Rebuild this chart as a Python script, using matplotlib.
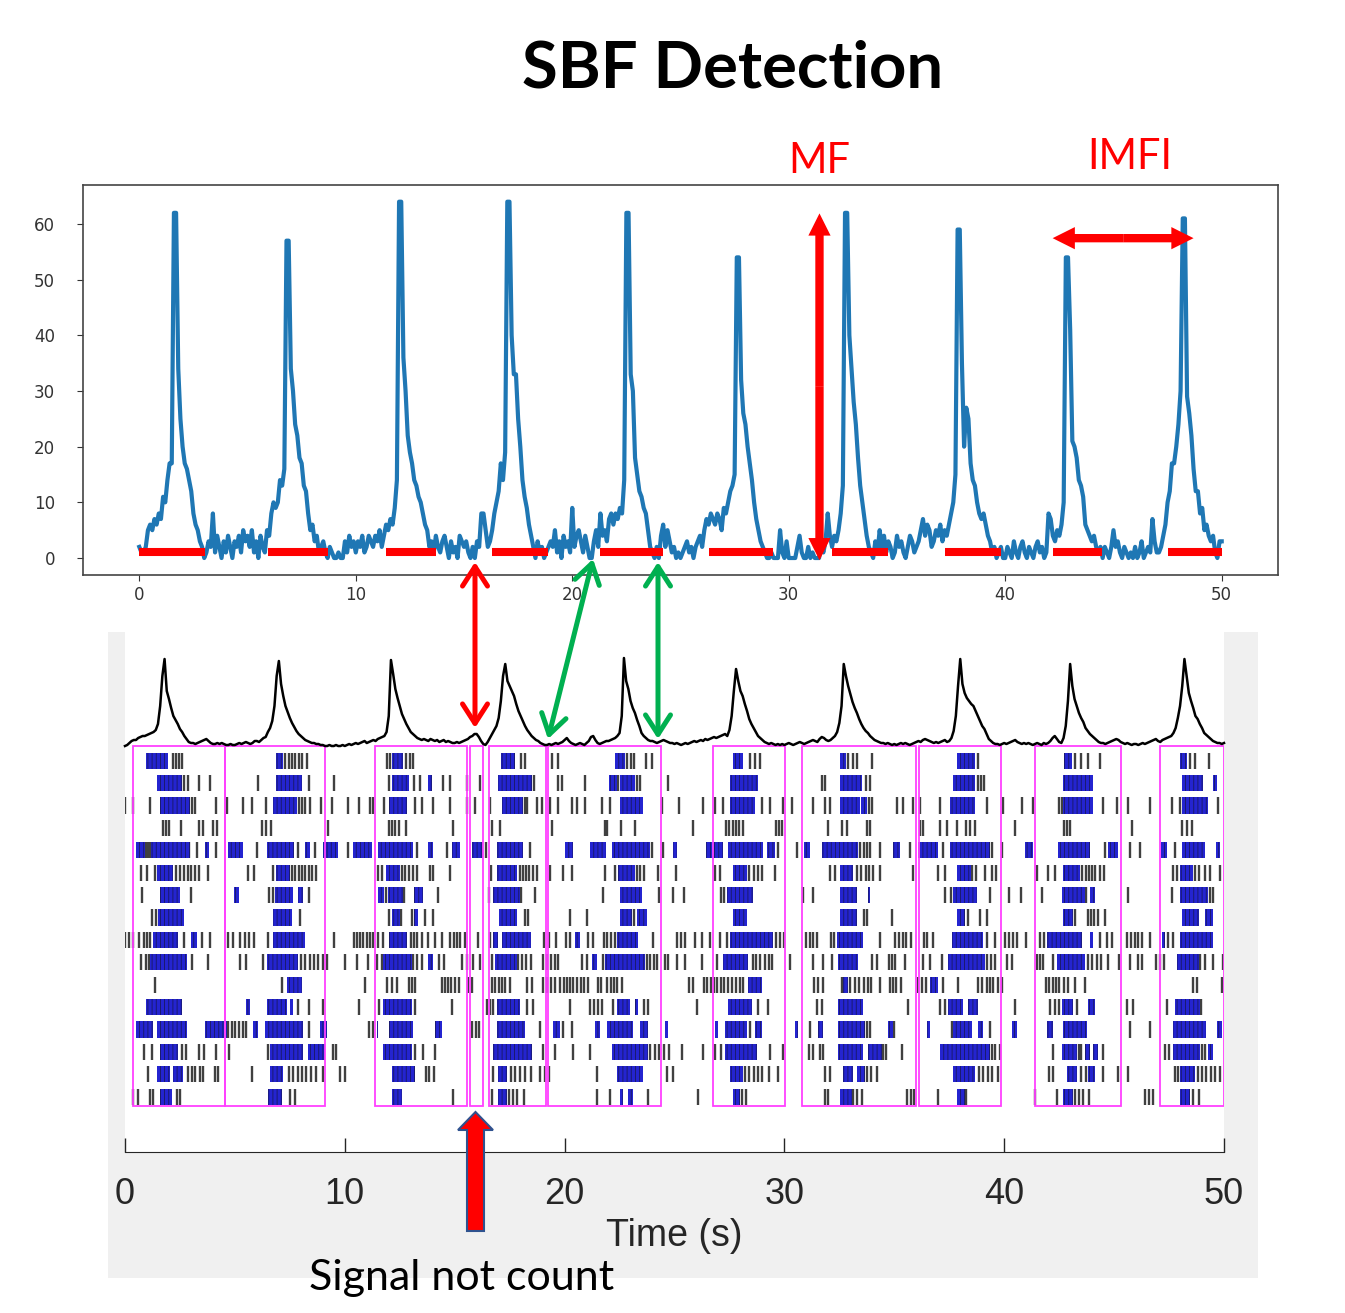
import numpy as np
import matplotlib
matplotlib.use("Agg")
import matplotlib.pyplot as plt
from matplotlib.patches import Rectangle, FancyArrowPatch, FancyArrow

# ---------------------------------------------------------------- data
# upper panel: firing rate, one value every 0.1 s from 0 to 50 s
top_rate = [
    2, 1, 1, 2, 5, 6, 5, 7, 6, 8,
    7, 11, 10, 14, 17, 17, 62, 62, 34, 25,
    20, 17, 16, 14, 12, 8, 6, 5, 3, 2,
    0, 1, 3, 2, 8, 1, 4, 2, 0, 3,
    1, 4, 2, 0, 3, 2, 4, 1, 5, 3,
    4, 2, 5, 1, 3, 0, 4, 2, 1, 5,
    4, 8, 10, 9, 10, 14, 13, 16, 57, 57,
    34, 30, 24, 22, 18, 17, 13, 12, 8, 5,
    6, 3, 4, 1, 2, 3, 1, 0, 2, 1,
    0, 0, 1, 0, 0, 3, 1, 4, 2, 3,
    1, 3, 2, 4, 1, 2, 4, 3, 2, 4,
    3, 5, 2, 4, 6, 5, 7, 6, 9, 14,
    64, 64, 36, 30, 22, 19, 17, 14, 13, 11,
    10, 8, 6, 5, 2, 3, 1, 4, 2, 1,
    3, 4, 2, 0, 3, 1, 2, 0, 4, 3,
    2, 3, 1, 0, 2, 0, 3, 2, 8, 8,
    5, 2, 3, 5, 8, 10, 12, 17, 14, 19,
    64, 64, 40, 33, 33, 25, 20, 14, 11, 9,
    6, 4, 2, 0, 3, 1, 2, 0, 1, 2,
    3, 2, 5, 1, 3, 0, 4, 2, 3, 1,
    9, 2, 4, 5, 3, 1, 4, 2, 0, 0,
    3, 5, 2, 8, 4, 5, 3, 7, 8, 6,
    8, 7, 9, 8, 14, 62, 62, 33, 30, 18,
    15, 12, 11, 9, 8, 5, 2, 1, 0, 2,
    0, 4, 6, 2, 5, 3, 1, 2, 0, 1,
    0, 1, 2, 3, 1, 2, 0, 2, 3, 4,
    2, 5, 7, 6, 8, 7, 6, 8, 7, 5,
    9, 8, 10, 12, 13, 15, 54, 54, 32, 26,
    24, 20, 17, 14, 10, 7, 5, 3, 2, 1,
    0, 0, 1, 0, 0, 0, 5, 1, 0, 3,
    0, 0, 0, 0, 2, 4, 1, 0, 0, 2,
    0, 1, 0, 0, 0, 2, 1, 3, 8, 4,
    2, 4, 3, 5, 8, 13, 62, 62, 40, 34,
    28, 24, 18, 13, 10, 7, 4, 2, 1, 0,
    3, 1, 5, 2, 4, 1, 3, 2, 0, 1,
    4, 2, 3, 1, 0, 2, 4, 3, 1, 2,
    3, 5, 7, 4, 6, 5, 2, 3, 5, 4,
    6, 3, 5, 4, 6, 8, 10, 15, 59, 59,
    35, 20, 27, 25, 17, 14, 13, 10, 8, 7,
    8, 6, 4, 3, 1, 2, 0, 1, 2, 0,
    0, 2, 1, 0, 3, 1, 0, 2, 3, 1,
    0, 2, 1, 0, 2, 3, 1, 2, 0, 1,
    8, 7, 4, 3, 5, 4, 6, 10, 54, 54,
    41, 21, 20, 18, 14, 13, 11, 6, 5, 4,
    3, 4, 2, 1, 2, 0, 2, 1, 0, 2,
    5, 2, 3, 1, 0, 2, 1, 0, 1, 0,
    2, 0, 1, 3, 0, 1, 2, 1, 7, 3,
    1, 1, 2, 4, 6, 10, 12, 17, 17, 20,
    24, 30, 61, 61, 29, 26, 22, 16, 12, 12,
    8, 9, 5, 6, 4, 3, 4, 1, 0, 3,
    3,
]

# detected bursts (red bars), seconds
burst_start = [0.0, 5.96, 11.4, 16.3, 21.3, 26.3, 32.0, 37.2, 42.2, 47.5]
burst_end = [3.05, 8.73, 13.7, 18.9, 24.2, 29.25, 34.6, 39.8, 44.45, 50.0]

# lower panel: population trace, one value every 0.1 s
pop_rate = [
    0, 1, 3, 5, 6, 6, 8, 9, 10, 10,
    11, 12, 13, 14, 16, 22, 40, 70, 87, 55,
    47, 38, 30, 26, 22, 17, 14, 10, 7, 4,
    3, 3, 2, 3, 4, 5, 6, 7, 5, 3,
    2, 2, 3, 2, 3, 2, 1, 1, 2, 1,
    1, 2, 3, 2, 3, 4, 3, 2, 3, 5,
    5, 4, 6, 8, 9, 14, 18, 25, 40, 70,
    85, 62, 50, 40, 34, 28, 23, 19, 15, 12,
    10, 8, 6, 5, 4, 3, 3, 2, 2, 1,
    1, 0, 0, 1, 0, 0, 1, 0, 0, 1,
    0, 1, 2, 1, 2, 3, 2, 3, 4, 5,
    3, 4, 5, 6, 5, 7, 8, 9, 10, 14,
    30, 86, 72, 57, 48, 40, 32, 27, 22, 18,
    14, 12, 10, 8, 7, 6, 7, 6, 5, 7,
    6, 5, 6, 4, 5, 6, 4, 5, 4, 3,
    3, 4, 3, 4, 5, 6, 7, 9, 10, 12,
    12, 9, 5, 2, 1, 4, 8, 12, 16, 20,
    28, 45, 70, 82, 65, 60, 55, 50, 42, 35,
    30, 25, 20, 16, 13, 10, 8, 6, 5, 3,
    2, 1, 1, 2, 1, 2, 3, 2, 3, 4,
    6, 8, 5, 3, 2, 1, 2, 3, 2, 1,
    3, 5, 9, 10, 6, 3, 2, 3, 4, 5,
    5, 6, 7, 8, 10, 13, 30, 88, 65, 57,
    45, 38, 33, 26, 20, 13, 10, 8, 6, 5,
    5, 4, 3, 4, 5, 6, 5, 4, 3, 3,
    2, 3, 2, 1, 2, 3, 2, 3, 4, 5,
    4, 5, 6, 5, 7, 6, 7, 8, 9, 8,
    9, 10, 11, 12, 10, 16, 30, 55, 77, 65,
    55, 50, 42, 35, 27, 22, 18, 14, 10, 8,
    6, 4, 3, 2, 3, 2, 1, 2, 1, 2,
    1, 2, 3, 2, 1, 2, 3, 4, 3, 2,
    3, 4, 5, 6, 5, 4, 7, 9, 8, 6,
    5, 6, 8, 10, 14, 23, 40, 82, 70, 60,
    52, 44, 38, 33, 27, 22, 18, 15, 13, 10,
    8, 6, 5, 4, 3, 3, 2, 3, 2, 1,
    2, 1, 2, 3, 2, 3, 2, 1, 2, 3,
    4, 5, 4, 6, 7, 6, 5, 4, 3, 4,
    3, 4, 5, 6, 4, 5, 8, 15, 30, 60,
    87, 62, 53, 48, 45, 42, 40, 35, 30, 25,
    20, 17, 12, 7, 5, 3, 2, 2, 1, 2,
    3, 2, 3, 4, 5, 6, 4, 3, 2, 3,
    2, 3, 2, 1, 2, 3, 2, 1, 3, 2,
    3, 5, 8, 10, 7, 4, 3, 8, 20, 45,
    82, 60, 47, 40, 33, 28, 24, 18, 15, 12,
    10, 8, 6, 4, 3, 3, 2, 3, 4, 5,
    6, 7, 6, 4, 3, 2, 3, 2, 1, 2,
    2, 1, 2, 3, 2, 3, 4, 5, 6, 7,
    5, 4, 6, 7, 8, 9, 10, 13, 18, 28,
    40, 60, 87, 70, 53, 45, 38, 30, 27, 22,
    18, 13, 11, 9, 7, 5, 4, 3, 3, 2,
    3,
]

# burst windows (magenta boxes), seconds
box_start = [0.38, 4.55, 11.38, 15.7, 16.58, 19.26, 26.74, 30.82, 36.14, 41.4, 47.09]
box_end = [4.55, 9.1, 15.57, 16.27, 19.16, 24.4, 30.03, 35.99, 39.84, 45.3, 50.0]

# raster: spikes inside bursts (blue, intervals) and other spikes (black)
blue_bursts = [
    [(0.96, 1.97), (6.86, 7.2), (12.13, 12.66), (17.1, 17.74), (22.3, 22.75), (27.68, 28.13),
     (32.53, 32.8), (37.84, 38.67), (42.7, 43.07), (48.0, 48.3)],
    [(1.44, 2.58), (6.86, 8.04), (12.13, 12.92), (13.8, 13.95), (16.98, 18.5), (22.03, 22.37),
     (22.52, 23.2), (27.52, 28.8), (32.53, 33.52), (37.69, 38.67), (42.69, 44.06), (48.07, 49.06),
     (49.52, 49.67)],
    [(1.59, 2.96), (6.75, 7.81), (12.03, 12.82), (17.14, 18.12), (22.52, 23.58), (27.52, 28.66),
     (32.53, 33.44), (33.5, 33.75), (37.53, 38.67), (42.69, 44.06), (48.07, 49.29)],
    [],
    [(0.5, 0.9), (1.2, 2.96), (3.64, 3.84), (4.7, 5.38), (6.48, 7.7), (8.19, 8.42), (9.02, 9.7),
     (10.39, 11.22), (11.53, 13.12), (13.8, 14.03), (14.86, 15.24), (15.77, 16.3), (16.91, 18.12),
     (20.02, 20.37), (21.15, 21.87), (22.14, 23.88), (24.92, 25.13), (26.43, 27.22), (27.45, 29.01),
     (29.19, 29.57), (30.89, 31.16), (31.7, 33.36), (34.95, 35.26), (36.09, 37.0), (37.53, 39.35),
     (40.95, 41.3), (42.46, 43.9), (44.74, 45.2), (47.12, 47.42), (48.07, 49.14), (49.64, 49.82)],
    [(1.44, 2.2), (6.86, 7.51), (11.87, 12.51), (16.91, 17.85), (22.44, 23.2), (27.68, 28.28),
     (32.53, 33.14), (37.84, 38.5), (42.69, 43.45), (48.0, 48.6)],
    [(1.59, 2.5), (4.97, 5.2), (6.82, 7.66), (7.89, 8.08), (11.53, 11.8), (11.95, 12.66),
     (13.15, 13.54), (16.73, 17.97), (22.52, 23.51), (27.37, 28.59), (32.53, 33.29), (33.82, 33.9),
     (37.69, 38.75), (42.61, 43.68), (43.9, 44.13), (48.0, 49.29)],
    [(1.52, 2.69), (6.75, 7.58), (12.13, 12.51), (13.15, 13.35), (17.03, 17.85), (22.52, 23.05),
     (23.28, 23.73), (27.68, 28.28), (32.53, 33.29), (37.84, 38.22), (42.69, 43.15), (48.07, 48.84),
     (49.14, 49.52)],
    [(1.26, 2.43), (3.0, 3.29), (6.75, 8.19), (12.0, 12.82), (16.76, 16.98), (17.14, 18.46),
     (20.47, 20.7), (22.37, 23.35), (27.52, 29.5), (32.38, 33.59), (37.61, 39.05), (41.93, 43.53),
     (43.9, 44.06), (47.17, 47.32), (48.0, 49.52)],
    [(1.14, 2.81), (6.45, 7.89), (11.75, 13.04), (13.8, 14.03), (16.83, 17.82), (21.23, 21.46),
     (21.84, 23.66), (27.22, 28.36), (32.45, 33.36), (37.46, 39.13), (42.39, 43.68), (47.85, 48.84)],
    [(7.36, 8.04), (28.36, 28.96), (32.68, 32.91), (36.62, 37.0)],
    [(0.96, 2.58), (5.5, 5.69), (6.48, 7.36), (7.51, 7.66), (11.75, 13.04), (16.91, 17.97),
     (22.37, 22.98), (23.2, 23.35), (27.45, 28.51), (32.45, 33.59), (37.46, 38.14), (38.37, 38.82),
     (42.61, 43.15), (43.83, 44.13), (47.77, 48.9)],
    [(0.5, 1.29), (1.44, 2.81), (3.64, 4.63), (5.84, 6.07), (6.37, 8.11), (8.87, 9.17),
     (11.45, 11.53), (12.0, 13.12), (14.1, 14.41), (16.91, 18.2), (19.49, 19.79), (21.38, 21.61),
     (21.91, 23.13), (23.43, 23.81), (24.57, 24.72), (26.84, 26.99), (27.3, 28.28), (28.66, 28.96),
     (30.48, 30.64), (31.54, 31.77), (32.45, 33.67), (34.73, 34.95), (36.47, 36.62), (37.69, 38.52),
     (38.82, 39.05), (40.34, 40.57), (41.96, 42.24), (42.69, 43.75), (47.7, 49.2), (49.67, 49.9)],
    [(1.59, 2.43), (6.6, 8.08), (8.34, 9.1), (11.75, 13.04), (16.76, 18.5), (22.14, 23.81),
     (27.3, 28.74), (32.45, 33.59), (33.82, 34.43), (37.08, 39.35), (42.61, 43.3), (43.68, 43.9),
     (44.06, 44.28), (47.7, 48.9), (49.29, 49.52)],
    [(1.44, 2.05), (2.2, 2.65), (6.6, 7.2), (12.13, 13.2), (16.98, 17.37), (22.37, 23.58),
     (27.52, 28.13), (32.68, 33.14), (33.29, 33.67), (37.69, 38.67), (42.84, 43.3), (43.83, 44.13),
     (48.0, 48.68)],
    [(1.59, 2.12), (6.52, 7.13), (12.13, 12.59), (16.98, 17.37), (22.52, 22.67), (22.9, 23.13),
     (27.68, 27.98), (32.53, 33.06), (37.84, 38.22), (42.69, 43.15), (48.0, 48.45)],
]

black_spikes = [
    [2.2, 2.3, 2.45, 2.6, 7.3, 7.45, 7.6, 7.75, 7.9, 8.05, 8.3, 11.9, 12.05, 12.8, 12.95, 13.1,
     18.0, 18.2, 19.41, 19.71, 22.85, 23.0, 23.15, 23.7, 23.96, 28.45, 28.65, 28.9, 32.9, 33.1,
     33.3, 33.97, 38.8, 43.2, 43.5, 43.8, 44.36, 48.45, 48.7, 49.3],
    [2.7, 2.85, 3.38, 3.87, 6.07, 8.39, 9.51, 12.0, 13.15, 13.42, 14.48, 14.79, 15.57, 16.15,
     18.6, 19.7, 19.87, 20.93, 22.44, 23.3, 23.45, 24.69, 31.7, 31.85, 33.7, 33.9, 38.8, 38.95,
     39.1],
    [0.02, 0.38, 1.14, 3.05, 3.2, 4.14, 4.63, 5.38, 5.76, 6.42, 7.9, 8.05, 8.2, 8.4, 8.9, 9.4,
     10.16, 10.66, 11.15, 11.3, 11.78, 13.2, 13.5, 14.03, 14.79, 15.57, 15.92, 16.6, 18.2, 18.3,
     18.73, 18.96, 19.34, 19.72, 20.32, 20.55, 20.93, 21.69, 22.06, 24.42, 25.22, 26.31, 26.84,
     27.22, 28.96, 29.34, 29.95, 30.33, 31.31, 31.85, 32.07, 33.85, 34.0, 35.11, 35.41, 35.86,
     36.17, 37.08, 39.2, 39.96, 40.8, 41.33, 42.5, 42.62, 44.51, 45.12, 45.65, 46.63, 47.62, 48.0,
     49.74],
    [1.72, 1.85, 2.0, 2.53, 3.38, 3.56, 4.02, 4.17, 6.22, 6.42, 6.62, 9.25, 12.0, 12.15, 12.3,
     12.45, 12.78, 14.94, 16.68, 17.06, 19.41, 21.84, 21.92, 22.55, 23.2, 25.83, 27.35, 27.5,
     27.65, 27.8, 27.95, 28.1, 29.6, 29.75, 29.87, 31.99, 32.6, 32.83, 33.74, 33.9, 36.17, 36.32,
     37.08, 37.38, 37.84, 38.25, 38.45, 38.65, 40.49, 42.7, 42.85, 43.0, 45.8, 48.1, 48.3, 48.55],
    [0.95, 1.05, 1.15, 2.9, 3.29, 4.14, 5.99, 7.89, 8.64, 10.16, 13.27, 14.67, 16.43, 18.43,
     23.96, 24.49, 29.72, 30.59, 33.45, 33.6, 33.75, 33.9, 34.35, 35.71, 37.23, 39.45, 39.89,
     44.6, 45.72, 46.18, 47.77],
    [0.71, 1.02, 1.37, 2.3, 2.5, 2.7, 2.85, 3.0, 3.2, 3.35, 3.76, 5.61, 5.87, 6.75, 7.6, 7.75,
     7.9, 8.05, 8.2, 8.35, 8.5, 8.7, 11.53, 11.68, 12.6, 12.75, 12.9, 13.1, 13.3, 13.88, 14.03,
     14.79, 16.64, 17.95, 18.1, 18.25, 18.4, 18.55, 18.75, 19.34, 19.94, 20.32, 21.84, 22.3, 23.3,
     23.45, 23.6, 24.27, 25.07, 26.84, 27.07, 28.4, 28.6, 28.8, 29.0, 29.57, 32.07, 32.3, 33.3,
     33.5, 33.7, 33.85, 34.05, 34.35, 35.86, 37.0, 37.3, 38.55, 38.7, 39.13, 39.43, 39.63, 41.51,
     42.01, 42.31, 43.55, 43.7, 43.85, 44.0, 44.15, 44.35, 44.55, 47.7, 47.85, 48.7, 48.85, 49.14,
     49.37, 49.8],
    [0.76, 3.0, 6.55, 6.75, 8.39, 11.87, 12.7, 14.26, 16.58, 18.0, 18.65, 21.76, 24.31, 24.95,
     25.43, 27.1, 27.25, 30.86, 31.31, 37.3, 37.6, 39.35, 40.23, 40.75, 41.7, 43.72, 45.65, 47.62,
     49.35, 49.5],
    [1.25, 1.4, 7.96, 12.03, 12.54, 13.04, 13.65, 14.03, 18.2, 18.35, 20.24, 21.0, 23.15, 33.6,
     33.74, 34.88, 38.37, 38.9, 39.2, 43.22, 43.8, 43.95, 44.1, 44.25, 44.6],
    [0.02, 0.2, 0.35, 0.65, 0.85, 1.0, 1.15, 2.69, 3.49, 3.87, 4.7, 4.9, 5.25, 5.45, 5.65, 5.85,
     6.52, 9.51, 10.4, 10.55, 10.7, 10.85, 11.0, 11.15, 11.3, 11.53, 11.75, 13.0, 13.15, 13.3,
     13.5, 13.8, 14.1, 14.4, 14.8, 14.95, 15.1, 15.25, 15.45, 16.08, 16.6, 19.05, 19.3, 19.6,
     20.05, 20.25, 21.08, 21.3, 21.8, 21.95, 22.1, 22.3, 24.04, 25.1, 25.3, 25.48, 25.93, 26.24,
     26.61, 27.07, 27.37, 29.6, 29.8, 30.0, 31.0, 31.15, 31.3, 31.5, 32.1, 32.25, 34.35, 35.05,
     35.2, 35.4, 35.55, 35.75, 36.35, 36.5, 36.75, 39.2, 39.58, 40.05, 40.2, 40.4, 40.6, 40.99,
     41.65, 41.8, 44.36, 44.66, 44.89, 45.6, 45.75, 45.95, 46.1, 46.25, 46.63, 47.47, 47.7],
    [0.75, 0.95, 1.1, 3.03, 3.76, 5.25, 5.5, 6.3, 8.0, 8.2, 8.4, 8.6, 8.8, 9.0, 9.2, 10.01,
     10.54, 11.07, 11.45, 11.7, 13.1, 13.3, 13.5, 14.3, 14.5, 15.32, 15.55, 15.85, 16.15, 16.68,
     17.9, 18.05, 18.25, 18.45, 19.0, 19.2, 19.4, 19.55, 19.7, 20.78, 21.0, 21.76, 23.75, 23.9,
     24.05, 24.2, 24.57, 24.72, 25.1, 25.48, 26.24, 26.92, 28.55, 28.7, 28.9, 29.1, 29.3, 29.45,
     30.25, 31.31, 31.77, 32.15, 33.97, 34.2, 34.75, 34.9, 35.03, 35.49, 36.32, 36.62, 37.15,
     39.2, 39.4, 39.6, 40.11, 40.34, 41.5, 41.65, 41.78, 42.24, 43.8, 44.0, 44.2, 44.4, 44.74,
     45.24, 45.72, 46.1, 46.25, 46.9, 47.1, 47.25, 48.9, 49.15, 49.52, 49.97],
    [1.37, 7.13, 10.92, 11.9, 12.13, 12.36, 12.9, 13.05, 13.2, 14.4, 14.55, 14.7, 14.85, 15.0,
     15.2, 15.6, 15.8, 16.7, 16.85, 17.0, 17.15, 17.3, 17.5, 18.3, 18.5, 19.0, 19.2, 19.4, 19.55,
     19.8, 19.95, 20.1, 20.25, 20.4, 20.55, 20.75, 20.9, 21.05, 21.5, 21.65, 21.95, 22.1, 22.25,
     22.4, 22.6, 25.65, 25.85, 26.35, 26.5, 26.65, 26.8, 26.95, 27.1, 27.25, 27.45, 27.6, 27.8,
     28.0, 28.13, 31.35, 31.55, 31.75, 32.6, 33.0, 33.2, 33.4, 33.6, 33.8, 33.95, 34.35, 34.8,
     34.95, 35.1, 35.3, 36.09, 36.25, 36.45, 37.23, 37.92, 38.8, 39.0, 39.2, 39.35, 39.5, 39.7,
     39.9, 41.9, 42.05, 42.2, 42.35, 42.5, 42.7, 42.9, 43.2, 43.68, 48.6, 48.75, 49.9],
    [7.89, 8.39, 9.02, 10.66, 11.57, 13.2, 14.86, 16.45, 16.6, 16.76, 18.27, 18.58, 20.24, 21.15,
     21.35, 21.5, 21.69, 22.22, 23.6, 23.8, 26.01, 28.81, 29.27, 31.5, 31.7, 35.64, 37.1, 37.3,
     40.49, 42.1, 42.3, 42.5, 43.3, 45.6, 45.85, 47.39, 48.95],
    [4.7, 4.85, 5.0, 5.2, 5.35, 5.5, 8.39, 11.12, 11.3, 15.8, 15.95, 16.1, 18.88, 19.94, 20.32,
     28.43, 31.16, 33.75, 33.88, 34.98, 37.61, 39.35, 45.72, 46.63],
    [0.85, 1.25, 2.6, 2.78, 3.35, 3.6, 4.14, 4.75, 6.52, 9.45, 9.6, 13.2, 13.55, 14.1, 19.03,
     19.56, 20.4, 21.15, 23.9, 24.1, 24.3, 24.5, 24.75, 25.33, 26.31, 26.85, 27.1, 29.34, 29.95,
     31.1, 31.3, 31.6, 31.75, 34.5, 34.62, 35.33, 39.45, 39.6, 39.8, 42.24, 43.4, 43.5, 44.51,
     47.3, 47.5, 49.0, 49.15],
    [1.05, 2.85, 3.05, 3.2, 3.4, 3.55, 4.1, 4.25, 5.76, 7.45, 7.65, 7.85, 8.05, 8.25, 8.45, 8.7,
     9.0, 9.78, 10.01, 13.7, 13.85, 14.05, 16.76, 17.55, 17.75, 17.95, 18.2, 18.45, 18.88, 19.1,
     19.3, 21.46, 24.64, 24.95, 28.2, 28.4, 28.6, 28.8, 29.0, 29.3, 29.72, 31.85, 32.07, 33.75,
     33.95, 34.2, 38.85, 39.05, 39.25, 39.45, 39.7, 42.05, 42.2, 43.5, 43.7, 44.51, 45.2, 45.65,
     47.75, 47.9, 48.8, 49.0, 49.2, 49.4, 49.6, 49.8],
    [0.38, 0.61, 1.14, 1.29, 2.35, 2.5, 7.51, 7.74, 14.94, 16.68, 17.45, 17.65, 17.85, 18.15,
     21.46, 22.06, 23.81, 26.08, 28.05, 28.25, 31.85, 32.0, 33.1, 33.3, 33.55, 35.6, 35.75, 35.9,
     37.0, 38.25, 41.4, 42.39, 43.2, 43.4, 43.6, 43.85, 46.4, 46.6, 46.75, 48.6, 48.85],
]

x_ticks = [0, 10, 20, 30, 40, 50]
y_ticks_top = [0, 10, 20, 30, 40, 50, 60]

# ---------------------------------------------------------------- figure
W, H = 1345, 1313
plt.rcParams["hatch.linewidth"] = 0.6
fig = plt.figure(figsize=(W / 100, H / 100), dpi=100)

time_top = np.arange(len(top_rate)) * 0.1
time_pop = np.arange(len(pop_rate)) * 0.1

fig.text(733 / W, 1 - 88 / H, "SBF Detection", ha="center", va="baseline",
         fontsize=47, fontweight="bold", family="Lato")

# upper panel
ax1 = fig.add_axes([83 / W, 1 - 575 / H, 1195 / W, 390 / H])
ax1.plot(time_top, top_rate, color="#1f77b4", lw=3.0, zorder=2)
ax1.hlines([1.1] * len(burst_start), burst_start, burst_end, colors="red", lw=5.8,
           capstyle="butt", zorder=3)
ax1.set_xlim(-2.6, 52.6)
ax1.set_ylim(-3.05, 67)
ax1.set_xticks(x_ticks)
ax1.set_yticks(y_ticks_top)
ax1.tick_params(labelsize=12, colors="#333333", length=4, pad=4)
ax1.tick_params(axis="y", pad=16)
for s in ax1.spines.values():
    s.set_color("#444444")
    s.set_linewidth(1.2)

# MF and IMFI arrows (two filled heads from a midpoint)
arrow_kw = dict(arrowstyle="simple,head_length=0.8,head_width=0.8,tail_width=0.3",
                mutation_scale=20, color="red", lw=0, shrinkA=0, shrinkB=0, zorder=5)
for end in (61.9, -0.4):
    ax1.add_patch(FancyArrowPatch((31.42, 30.75), (31.42, end), **arrow_kw))
for end in (42.19, 48.7):
    ax1.add_patch(FancyArrowPatch((45.45, 57.45), (end, 57.45), **arrow_kw))

# lower panel background
fig.patches.append(Rectangle((108 / W, 1 - 1278 / H), 1150 / W, 646 / H,
                             transform=fig.transFigure, facecolor="#f0f0f0",
                             edgecolor="none", zorder=-5))

ax2 = fig.add_axes([125 / W, 1 - 1152 / H, 1099 / W, 520 / H])
ax2.set_facecolor("white")
rows = np.arange(1, len(black_spikes) + 1)
ax2.eventplot(black_spikes, lineoffsets=rows, linelengths=0.72, linewidths=1.7,
              colors="#404040")
for r, bursts in zip(rows, blue_bursts):
    if bursts:
        ax2.broken_barh([(a, b - a) for a, b in bursts], (r - 0.36, 0.72),
                        facecolors="#2424d0", edgecolor="#181860", linewidth=0,
                        hatch="||||", zorder=3)
for a, b in zip(box_start, box_end):
    ax2.add_patch(Rectangle((a, 0.35), b - a, 16.05, fill=False, edgecolor="#ff40ff",
                            lw=1.3, zorder=4))
ax2.set_xlim(0, 50)
ax2.set_ylim(18.47, -4.75)
ax2.set_yticks([])
ax2.set_xticks(x_ticks)
for side in ("top", "left", "right"):
    ax2.spines[side].set_visible(False)
ax2.spines["bottom"].set_color("#262626")
ax2.tick_params(axis="x", direction="in", length=10, width=1, colors="#262626",
                labelsize=26, pad=18)
for lab in ax2.get_xticklabels():
    lab.set_family("Liberation Sans")
ax2.set_xlabel("Time (s)", fontsize=27, family="Liberation Sans", color="#262626",
               labelpad=4)

ax3 = fig.add_axes([125 / W, 1 - 746 / H, 1099 / W, 106 / H])
ax3.plot(time_pop, pop_rate, color="black", lw=1.8, clip_on=False)
ax3.set_xlim(0, 50)
ax3.set_ylim(0, 106)
ax3.axis("off")

# annotations in pixel coordinates
ov = fig.add_axes([0, 0, 1, 1], zorder=10)
ov.set_xlim(0, W)
ov.set_ylim(H, 0)
ov.axis("off")
ov.text(819, 173, "MF", color="red", fontsize=30, family="Lato", ha="center", va="baseline")
ov.text(1130, 169, "IMFI", color="red", fontsize=30, family="Lato", ha="center", va="baseline")
open_kw = dict(arrowstyle="<->,head_length=0.7,head_width=0.45", mutation_scale=20,
               lw=3.6, shrinkA=0, shrinkB=0)
ov.add_patch(FancyArrowPatch((475, 562), (475, 728), color="red", **open_kw))
ov.add_patch(FancyArrowPatch((593, 559), (548, 739), color="#00b050", **open_kw))
ov.add_patch(FancyArrowPatch((658, 562), (658, 739), color="#00b050", **open_kw))
ov.add_patch(FancyArrow(475.5, 1231, 0, -119, width=17, head_width=35, head_length=18,
                        length_includes_head=True, facecolor="red", edgecolor="#2f528f",
                        lw=1.5))
ov.text(462, 1290, "Signal not count", fontsize=31, family="Lato", ha="center",
        va="baseline", color="black")

fig.savefig("out.png", dpi=100)
